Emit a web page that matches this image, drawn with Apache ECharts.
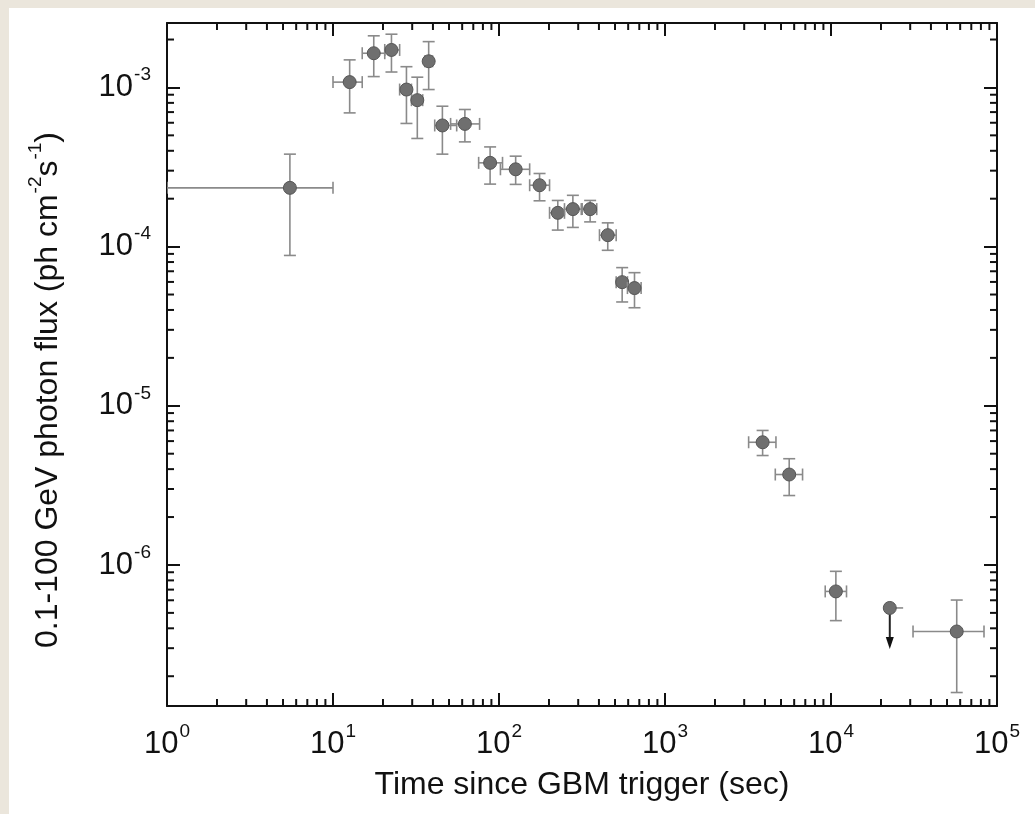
<!DOCTYPE html>
<html>
<head>
<meta charset="utf-8">
<title>LAT light curve</title>
<script src="https://cdn.jsdelivr.net/npm/echarts@6/dist/echarts.min.js"></script>
<style>
html, body { margin: 0; padding: 0; width: 1035px; height: 814px; overflow: hidden; background: #ebe6dc; }
#panel { position: absolute; left: 9px; top: 8px; right: 0; bottom: 0; background: #fff; }
#main { position: absolute; left: 0; top: 0; width: 1035px; height: 814px; }
</style>
</head>
<body>
<div id="panel"></div>
<div id="main"></div>
<script type="text/javascript">
// time bins (sec) and flux (ph cm-2 s-1)
var time  = [5.5, 12.6, 17.6, 22.5, 27.7, 32.2, 37.7, 45.6, 62.3, 88.4, 126, 175.5, 226, 278.6, 354, 452, 552, 655, 3873, 5600, 10700, 57200];
var timeLo = [1.0, 10.0, 15.0, 20.5, 25.2, 29.7, 35.7, 41, 51.1, 75.4, 102, 153, 201.6, 248, 317, 403, 508, 594, 3190, 4617, 9230, 31200];
var timeHi = [10, 15.0, 20.5, 25.2, 29.7, 34.7, 39.8, 55.6, 76.4, 105, 153, 201.6, 248, 313, 388, 508, 594, 718, 4660, 6740, 12400, 83500];
var flux   = [2.34e-4, 1.08e-3, 1.64e-3, 1.72e-3, 9.7e-4, 8.32e-4, 1.46e-3, 5.77e-4, 5.9e-4, 3.36e-4, 3.06e-4, 2.43e-4, 1.63e-4, 1.72e-4, 1.72e-4, 1.18e-4, 5.98e-5, 5.49e-5, 5.9e-6, 3.7e-6, 6.82e-7, 3.82e-7];
var fluxLo = [8.8e-5, 6.92e-4, 1.17e-3, 1.25e-3, 5.94e-4, 4.78e-4, 9.7e-4, 3.81e-4, 4.55e-4, 2.47e-4, 2.46e-4, 1.94e-4, 1.27e-4, 1.32e-4, 1.43e-4, 9.48e-5, 4.49e-5, 4.13e-5, 4.87e-6, 2.73e-6, 4.47e-7, 1.58e-7];
var fluxHi = [3.81e-4, 1.49e-3, 2.11e-3, 2.16e-3, 1.35e-3, 1.16e-3, 1.94e-3, 7.62e-4, 7.27e-4, 4.23e-4, 3.70e-4, 2.88e-4, 1.95e-4, 2.10e-4, 1.95e-4, 1.41e-4, 7.38e-5, 6.86e-5, 7.0e-6, 4.65e-6, 9.12e-7, 6.02e-7];

// upper limit
var ulTime = [22600];
var ulTimeLo = [20900];
var ulTimeHi = [27200];
var ulFlux = [5.37e-7];
var ulArrowTo = [2.97e-7];

// axes
var xMin = 1, xMax = 1e5;
var yMin = 1.3e-7, yMax = 2.54e-3;
var minorSteps = [2, 3, 4, 5, 6, 7, 8, 9];
var xDecades = [1, 10, 100, 1000, 10000];
var yDecades = [1e-7, 1e-6, 1e-5, 1e-4, 1e-3];

var FONT = '"Liberation Sans", Arial, sans-serif';
var INK = '#111';
var BAR = '#8a8a8a';

var xMinor = [], yMinor = [];
xDecades.forEach(function (d) {
    minorSteps.forEach(function (m) { xMinor.push([m * d, yMax]); });
});
yDecades.forEach(function (d) {
    minorSteps.forEach(function (m) {
        var v = m * d;
        if (v > yMin && v < yMax) yMinor.push([xMin, v]);
    });
});

var pts = time.map(function (t, i) {
    return [t, timeLo[i], timeHi[i], flux[i], fluxLo[i], fluxHi[i]];
});
var ul = ulTime.map(function (t, i) {
    return [t, ulTimeLo[i], ulTimeHi[i], ulFlux[i], ulArrowTo[i]];
});

function powLabel(v) {
    var e = Math.log10(v);
    var r = Math.round(e);
    if (Math.abs(e - r) > 1e-6) return '';
    return '{b|10}{s|' + r + '}';
}

// tall line box for the base text, superscript pinned to its top
var labelRich = {
    b: { fontSize: 31, fontFamily: FONT, color: INK, lineHeight: 44 },
    s: { fontSize: 19, fontFamily: FONT, color: INK, lineHeight: 19, verticalAlign: 'top', padding: [0, 0, 0, 1] }
};

function seg(x1, y1, x2, y2, style) {
    return { type: 'line', shape: { x1: x1, y1: y1, x2: x2, y2: y2 }, style: style };
}

function renderMinorX(params, api) {
    var cs = params.coordSys;
    var x = api.coord([api.value(0), api.value(1)])[0];
    var st = { stroke: INK, lineWidth: 2 };
    return { type: 'group', children: [
        seg(x, cs.y + cs.height, x, cs.y + cs.height - 7, st),
        seg(x, cs.y, x, cs.y + 7, st)
    ] };
}

function renderMinorY(params, api) {
    var cs = params.coordSys;
    var y = api.coord([api.value(0), api.value(1)])[1];
    var st = { stroke: INK, lineWidth: 2 };
    return { type: 'group', children: [
        seg(cs.x, y, cs.x + 7, y, st),
        seg(cs.x + cs.width, y, cs.x + cs.width - 7, y, st)
    ] };
}

function renderErr(params, api) {
    var c = api.coord([api.value(0), api.value(3)]);
    var xl = api.coord([api.value(1), api.value(3)])[0];
    var xh = api.coord([api.value(2), api.value(3)])[0];
    var yl = api.coord([api.value(0), api.value(4)])[1];
    var yh = api.coord([api.value(0), api.value(5)])[1];
    var cap = 6;
    var st = { stroke: BAR, lineWidth: 1.6 };
    return { type: 'group', children: [
        seg(xl, c[1], xh, c[1], st),
        seg(c[0], yl, c[0], yh, st),
        seg(xl, c[1] - cap, xl, c[1] + cap, st),
        seg(xh, c[1] - cap, xh, c[1] + cap, st),
        seg(c[0] - cap, yl, c[0] + cap, yl, st),
        seg(c[0] - cap, yh, c[0] + cap, yh, st),
        { type: 'circle', shape: { cx: c[0], cy: c[1], r: 6.5 }, style: { fill: '#6f6f6f', stroke: '#555', lineWidth: 1 } }
    ] };
}

function renderUL(params, api) {
    var c = api.coord([api.value(0), api.value(3)]);
    var xl = api.coord([api.value(1), api.value(3)])[0];
    var xh = api.coord([api.value(2), api.value(3)])[0];
    var tip = api.coord([api.value(0), api.value(4)])[1];
    return { type: 'group', children: [
        seg(xl, c[1], xh, c[1], { stroke: BAR, lineWidth: 1.6 }),
        seg(c[0], c[1], c[0], tip - 10, { stroke: '#222', lineWidth: 2 }),
        { type: 'polygon', shape: { points: [[c[0] - 4, tip - 12], [c[0] + 4, tip - 12], [c[0], tip]] }, style: { fill: '#111' } },
        { type: 'circle', shape: { cx: c[0], cy: c[1], r: 6.5 }, style: { fill: '#6f6f6f', stroke: '#555', lineWidth: 1 } }
    ] };
}

var myChart = echarts.init(document.getElementById('main'), null, { renderer: 'canvas' });

var axisLine = { show: true, lineStyle: { color: INK, width: 2 } };
var majorTick = { show: true, inside: true, length: 13, lineStyle: { color: INK, width: 2 } };

var option = {
    animation: false,
    backgroundColor: 'transparent',
    grid: { left: 167, top: 23, right: 38, bottom: 108 },
    xAxis: [{
        type: 'log', logBase: 10, min: xMin, max: xMax, position: 'bottom',
        axisLine: axisLine, axisTick: majorTick, splitLine: { show: false },
        axisLabel: { margin: 16, formatter: powLabel, rich: labelRich },
        name: 'Time since GBM trigger (sec)', nameLocation: 'middle', nameGap: 63,
        nameTextStyle: { fontSize: 32, fontFamily: FONT, color: INK }
    }, {
        type: 'log', logBase: 10, min: xMin, max: xMax, position: 'top',
        axisLine: axisLine, axisTick: majorTick, splitLine: { show: false },
        axisLabel: { show: false }
    }],
    yAxis: [{
        type: 'log', logBase: 10, min: yMin, max: yMax, position: 'left',
        axisLine: axisLine, axisTick: majorTick, splitLine: { show: false },
        axisLabel: { margin: 16, formatter: powLabel, rich: labelRich }
    }, {
        type: 'log', logBase: 10, min: yMin, max: yMax, position: 'right',
        axisLine: axisLine, axisTick: majorTick, splitLine: { show: false },
        axisLabel: { show: false }
    }],
    graphic: [{
        type: 'text', x: 48, y: 390, rotation: Math.PI / 2,
        style: {
            text: '{t|0.1-100 GeV photon flux (ph cm}{s|-2}{t|s}{s|-1}{t|)}',
            align: 'center', verticalAlign: 'middle',
            rich: {
                t: { fontSize: 32, fontFamily: FONT, fill: INK, lineHeight: 44 },
                s: { fontSize: 19, fontFamily: FONT, fill: INK, lineHeight: 19, verticalAlign: 'top', padding: [0, 0, 0, 1] }
            }
        }
    }],
    series: [{
        type: 'custom', renderItem: renderMinorX, data: xMinor, silent: true, z: 3,
        encode: { x: 0, y: 1 }
    }, {
        type: 'custom', renderItem: renderMinorY, data: yMinor, silent: true, z: 3,
        encode: { x: 0, y: 1 }
    }, {
        type: 'custom', renderItem: renderErr, data: pts, clip: true, z: 4,
        encode: { x: [0, 1, 2], y: [3, 4, 5] }
    }, {
        type: 'custom', renderItem: renderUL, data: ul, clip: true, z: 4,
        encode: { x: [0, 1, 2], y: [3, 4] }
    }]
};

myChart.setOption(option);
</script>
</body>
</html>
